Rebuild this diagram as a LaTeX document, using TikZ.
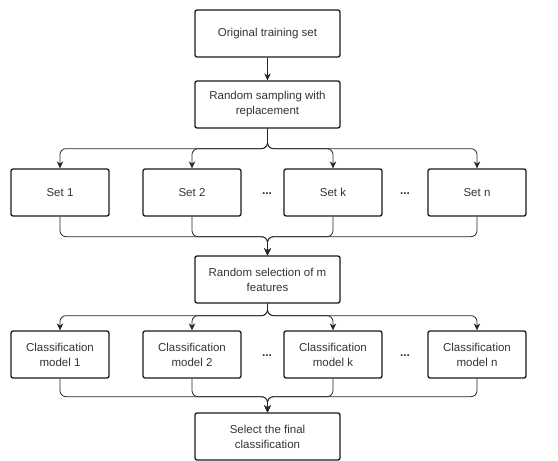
\documentclass[tikz,border=0pt]{standalone}
\usepackage{fontspec}
\setmainfont{Liberation Sans}
\usetikzlibrary{arrows.meta}

\tikzset{
  box/.style={draw=black!90, rounded corners=2pt, line width=1.3pt, align=center,
    minimum height=47pt, inner sep=2pt, text=black!80,
    font=\fontsize{11.5}{15}\selectfont},
  wide/.style={box, minimum width=145pt},
  narrow/.style={box, minimum width=98pt},
  link/.style={-{Stealth[length=7pt,width=6.5pt]}, line width=0.8pt,
    draw=black!85, rounded corners=6pt},
  gap/.style={text=black!80, font=\fontsize{12}{15}\selectfont\bfseries},
}

\begin{document}
\begin{tikzpicture}[x=1pt, y=-1pt]
    \useasboundingbox (0,0) rectangle (558,461);

    \node [wide] (orig) at (267.5,33.5) {Original training set};
    \node [wide] (samp) at (267.5,104.5) {Random sampling with\\replacement};
    \draw [link] (orig) -- (samp);

    % bootstrap sets
    \foreach \x/\n in {60/1, 192/2, 333/k, 477/n}
        \node [narrow] (set_\n) at (\x,192.5) {Set \n};
    \node [wide] (feat) at (267.5,279.5) {Random selection of m\\features};

    % models
    \foreach \x/\n in {60/1, 192/2, 333/k, 477/n}
        \node [narrow] (cls_\n) at (\x,354.5) {Classification\\model \n};
    \node [wide] (final) at (267.5,436.5) {Select the final\\classification};

    \foreach \x/\y/\i in {267/194/a, 405/194/b, 267/356/c, 405/356/d}
        \node [gap] (dots_\i) at (\x,\y) {...};

    \foreach \n in {1, 2, k, n} {
        \draw [link] (samp.south) -- ++(0,20) -| (set_\n.north);
        \draw [link] (set_\n.south) -- ++(0,20) -| (feat.north);
        \draw [link] (feat.south) -- ++(0,12) -| (cls_\n.north);
        \draw [link] (cls_\n.south) -- ++(0,18) -| (final.north);
    }
\end{tikzpicture}
\end{document}
